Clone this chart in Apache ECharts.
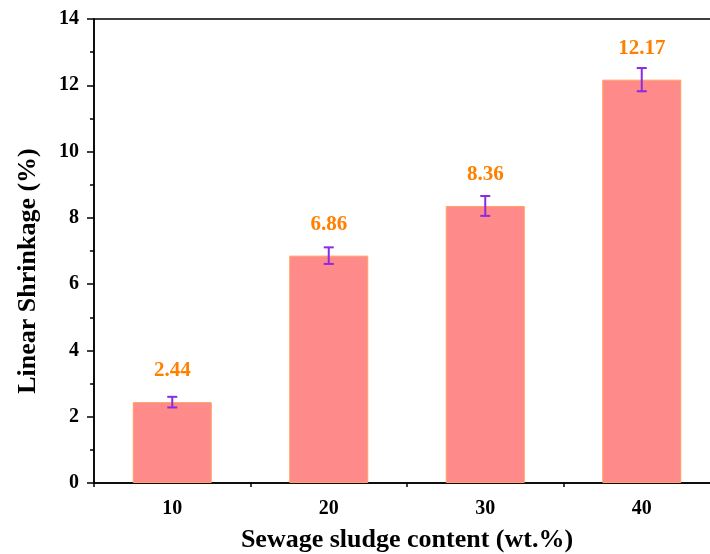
<!DOCTYPE html>
<html>
<head>
<meta charset="utf-8">
<script src="https://cdn.jsdelivr.net/npm/echarts@6/dist/echarts.min.js"></script>
<style>
  html, body { margin: 0; padding: 0; background: #fff; }
  #chart { width: 710px; height: 554px; }
</style>
</head>
<body>
<div id="chart"></div>
<script>
// Sewage sludge content (wt.%)
const categories = ['10', '20', '30', '40'];
// Linear shrinkage (%) and its standard deviation
const shrinkage = [2.44, 6.86, 8.36, 12.17];
const shrinkageErr = [0.16, 0.25, 0.30, 0.35];
const yTicks = [0, 2, 4, 6, 8, 10, 12, 14];

const FONT = '"Liberation Serif", "Times New Roman", serif';
const chart = echarts.init(document.getElementById('chart'), null, { renderer: 'canvas' });

const errorData = categories.map((c, i) => [i, shrinkage[i] - shrinkageErr[i], shrinkage[i] + shrinkageErr[i]]);

chart.setOption({
  animation: false,
  backgroundColor: '#ffffff',
  grid: {
    left: 94, top: 19, width: 626, height: 464,
    containLabel: false,
    outerBoundsMode: 'none',
    show: true, borderColor: '#000', borderWidth: 1.5, backgroundColor: 'transparent'
  },
  xAxis: [
    {
      type: 'category',
      data: categories,
      position: 'bottom',
      axisLine: { lineStyle: { color: '#000', width: 1.5 } },
      axisTick: { alignWithLabel: true, length: 7, lineStyle: { color: '#000', width: 1.5 } },
      axisLabel: { color: '#000', fontFamily: FONT, fontWeight: 'bold', fontSize: 20, margin: 16 },
      name: 'Sewage sludge content (wt.%)',
      nameLocation: 'middle',
      nameGap: 44,
      nameTextStyle: { color: '#000', fontFamily: FONT, fontWeight: 'bold', fontSize: 26, padding: [0, 0, 0, 0] }
    },
    {
      // minor ticks between the content levels
      type: 'category',
      data: categories,
      position: 'bottom',
      axisLine: { show: false },
      axisTick: { show: true, length: 4, lineStyle: { color: '#000', width: 1.5 } },
      axisLabel: { show: false }
    }
  ],
  yAxis: {
    type: 'value',
    min: yTicks[0],
    max: yTicks[yTicks.length - 1],
    interval: 2,
    axisLine: { show: true, lineStyle: { color: '#000', width: 1.5 } },
    axisTick: { show: true, length: 7, lineStyle: { color: '#000', width: 1.5 } },
    minorTick: { show: true, splitNumber: 2, length: 4, lineStyle: { color: '#000', width: 1.5 } },
    splitLine: { show: false },
    axisLabel: { color: '#000', fontFamily: FONT, fontWeight: 'bold', fontSize: 20, margin: 15 }
  },
  graphic: [
    {
      type: 'text',
      x: 28, y: 271,
      rotation: Math.PI / 2,
      style: {
        text: 'Linear Shrinkage (%)',
        fill: '#000',
        font: 'bold 26px ' + FONT,
        textAlign: 'center',
        textVerticalAlign: 'middle'
      }
    }
  ],
  series: [
    {
      type: 'bar',
      data: shrinkage,
      barWidth: 79,
      itemStyle: { color: '#FF8A8A', borderColor: '#FFA060', borderWidth: 1 },
      label: {
        show: true,
        position: 'top',
        distance: 21,
        color: '#FF8000',
        fontFamily: FONT,
        fontWeight: 'bold',
        fontSize: 21,
        formatter: p => p.value.toFixed(2)
      },
      z: 2
    },
    {
      type: 'custom',
      data: errorData,
      z: 5,
      renderItem: function (params, api) {
        const x = api.value(0);
        const lo = api.coord([x, api.value(1)]);
        const hi = api.coord([x, api.value(2)]);
        const hw = 5;
        const style = { stroke: '#8A2BE2', lineWidth: 2 };
        return {
          type: 'group',
          children: [
            { type: 'line', shape: { x1: hi[0], y1: hi[1], x2: lo[0], y2: lo[1] }, style },
            { type: 'line', shape: { x1: hi[0] - hw, y1: hi[1], x2: hi[0] + hw, y2: hi[1] }, style },
            { type: 'line', shape: { x1: lo[0] - hw, y1: lo[1], x2: lo[0] + hw, y2: lo[1] }, style }
          ]
        };
      }
    }
  ]
});
</script>
</body>
</html>
